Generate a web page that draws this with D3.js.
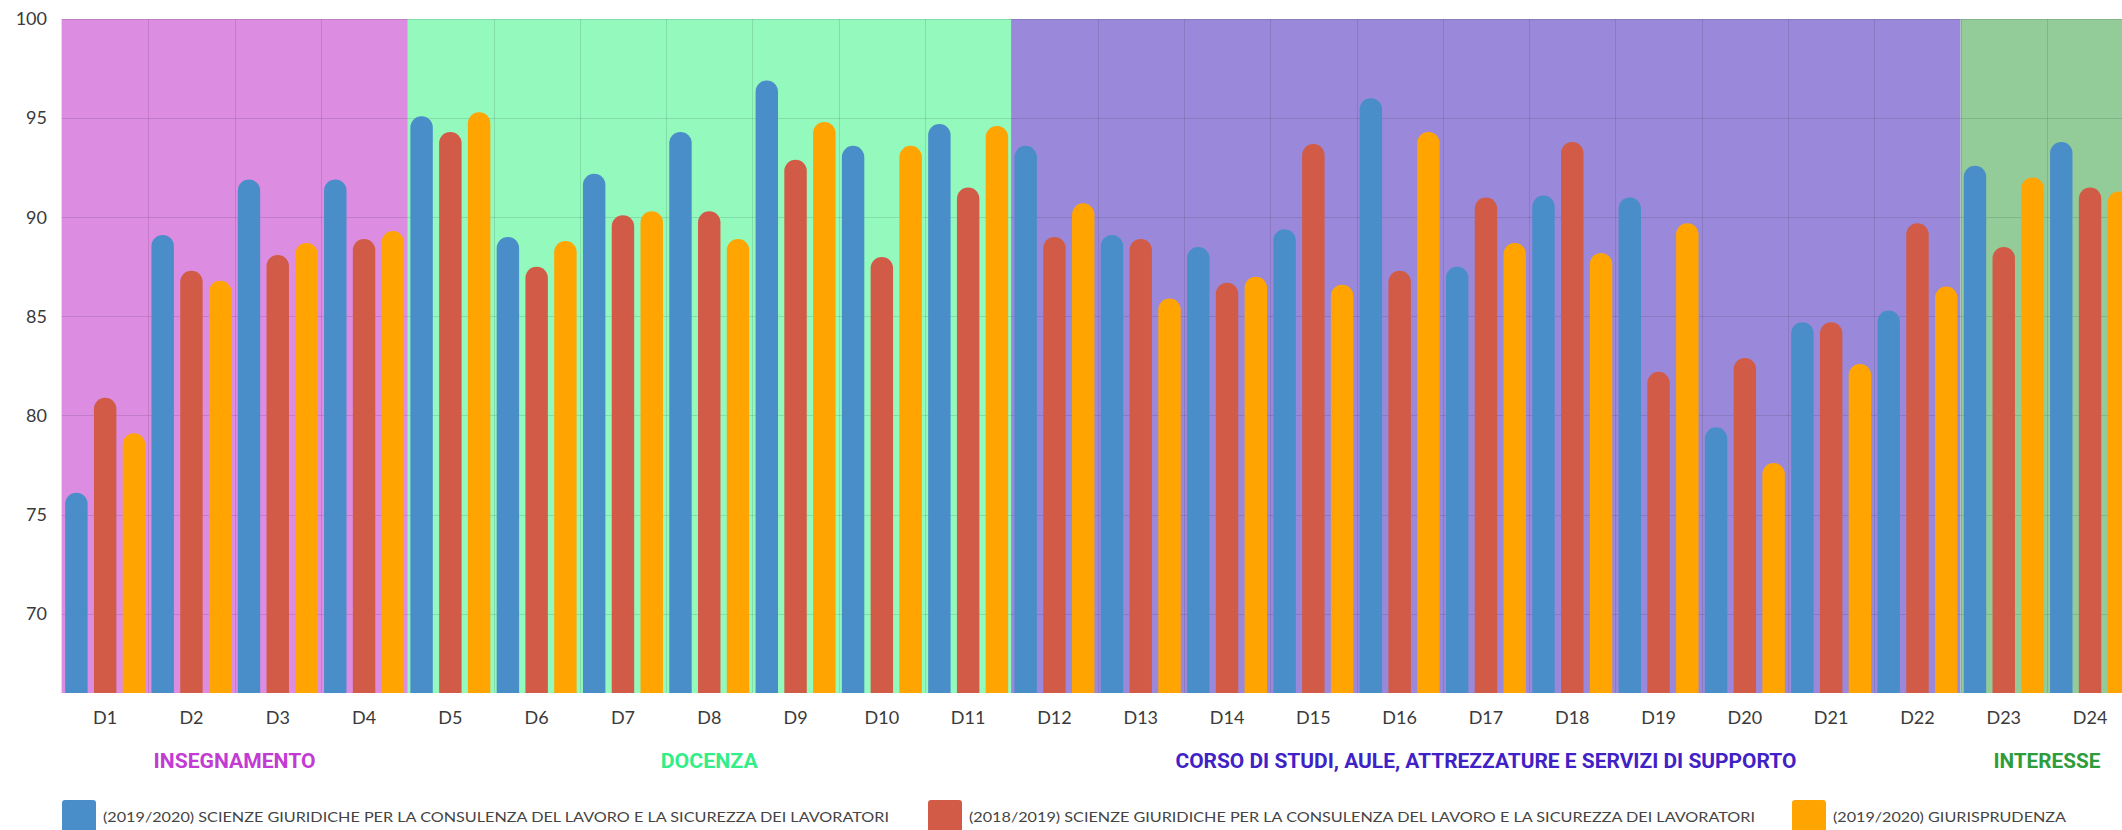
<!DOCTYPE html>
<html>
<head>
<meta charset="utf-8">
<script src="https://cdn.jsdelivr.net/npm/d3@7"></script>
<style>
  body { margin: 0; background: #fff; }
  svg { display: block; overflow: hidden; }
  .tick text { font-family: Lato, "Open Sans", sans-serif; fill: #3a3a3a; }
</style>
</head>
<body>
<div id="chart"></div>
<script>
// Data
var categories = ['D1', 'D2', 'D3', 'D4', 'D5', 'D6', 'D7', 'D8', 'D9', 'D10', 'D11', 'D12',
    'D13', 'D14', 'D15', 'D16', 'D17', 'D18', 'D19', 'D20', 'D21', 'D22', 'D23', 'D24'];

var seriesNames = [
    '(2019/2020) SCIENZE GIURIDICHE PER LA CONSULENZA DEL LAVORO E LA SICUREZZA DEI LAVORATORI',
    '(2018/2019) SCIENZE GIURIDICHE PER LA CONSULENZA DEL LAVORO E LA SICUREZZA DEI LAVORATORI',
    '(2019/2020) GIURISPRUDENZA'
];

var sgcl2020 = [76.1, 89.1, 91.9, 91.9, 95.1, 89.0, 92.2, 94.3, 96.9, 93.6, 94.7, 93.6,
    89.1, 88.5, 89.4, 96.0, 87.5, 91.1, 91.0, 79.4, 84.7, 85.3, 92.6, 93.8];
var sgcl2019 = [80.9, 87.3, 88.1, 88.9, 94.3, 87.5, 90.1, 90.3, 92.9, 88.0, 91.5, 89.0,
    88.9, 86.7, 93.7, 87.3, 91.0, 93.8, 82.2, 82.9, 84.7, 89.7, 88.5, 91.5];
var giur2020 = [79.1, 86.8, 88.7, 89.3, 95.3, 88.8, 90.3, 88.9, 94.8, 93.6, 94.6, 90.7,
    85.9, 87.0, 86.6, 94.3, 88.7, 88.2, 89.7, 77.6, 82.6, 86.5, 92.0, 91.3];

var yTicks = [70, 75, 80, 85, 90, 95, 100];

var groupLabels = ['INSEGNAMENTO', 'DOCENZA',
    'CORSO DI STUDI, AULE, ATTREZZATURE E SERVIZI DI SUPPORTO', 'INTERESSE'];
var groupFirst = ['D1', 'D5', 'D12', 'D23'];
var groupLast = ['D4', 'D11', 'D22', 'D24'];

// styles
var seriesColors = ['#4a8ec9', '#d25b47', '#ffa400'];
var bandColors = ['#dc8de1', '#93f9bd', '#9a89da', '#93cc99'];
var groupTextColors = ['#c23bd3', '#33ee88', '#3f22c6', '#2e9c3a'];
var groupTextWidths = [162, 97, 621, 107];

var svgWidth = 2122;
var svgHeight = 830;

var plot = { left: 62, top: 19, bottom: 693, step: 86.3 };

var svg = d3.select('#chart')
    .append('svg')
    .attr('width', svgWidth)
    .attr('height', svgHeight);

var xScale = d3.scaleBand()
    .domain(categories)
    .range([plot.left, plot.left + plot.step * categories.length]);

var xInner = d3.scaleBand()
    .domain(d3.range(seriesNames.length))
    .range([0, xScale.bandwidth()])
    .paddingInner(0.22)
    .paddingOuter(0.11);

var yScale = d3.scaleLinear()
    .domain([66, 100])
    .range([plot.bottom, plot.top]);

var plotRight = xScale.range()[1];

// Background bands for each section
svg.append('g')
    .selectAll('rect')
    .data(groupLabels)
    .enter()
    .append('rect')
    .attr('x', (d, i) => xScale(groupFirst[i]))
    .attr('y', plot.top)
    .attr('width', (d, i) => xScale(groupLast[i]) + xScale.bandwidth() - xScale(groupFirst[i]))
    .attr('height', plot.bottom - plot.top)
    .attr('fill', (d, i) => bandColors[i]);

// Grid
var grid = svg.append('g')
    .attr('stroke', 'rgba(0,0,0,0.11)')
    .attr('stroke-width', 1);

grid.selectAll('.hline')
    .data(yTicks)
    .enter()
    .append('line')
    .attr('x1', plot.left)
    .attr('x2', plotRight)
    .attr('y1', d => Math.round(yScale(d)) + 0.5)
    .attr('y2', d => Math.round(yScale(d)) + 0.5);

grid.selectAll('.vline')
    .data(categories.slice(1))
    .enter()
    .append('line')
    .attr('x1', d => Math.round(xScale(d)) + 0.5)
    .attr('x2', d => Math.round(xScale(d)) + 0.5)
    .attr('y1', plot.top)
    .attr('y2', plot.bottom);

svg.append('line')
    .attr('x1', plot.left - 0.5)
    .attr('x2', plot.left - 0.5)
    .attr('y1', plot.top)
    .attr('y2', plot.bottom)
    .attr('stroke', '#ddd');

// Bars with round tops
function barPath(x, w, top, bottom) {
    var r = w / 2;
    return 'M' + x + ',' + bottom +
        'L' + x + ',' + (top + r) +
        'A' + r + ',' + r + ' 0 0 1 ' + (x + w) + ',' + (top + r) +
        'L' + (x + w) + ',' + bottom + 'Z';
}

var allSeries = [sgcl2020, sgcl2019, giur2020];

allSeries.forEach(function(values, s) {
    svg.append('g')
        .selectAll('path')
        .data(values)
        .enter()
        .append('path')
        .attr('d', (d, i) => barPath(xScale(categories[i]) + xInner(s), xInner.bandwidth(), yScale(d), plot.bottom))
        .attr('fill', seriesColors[s]);
});

// Axes
var leftAxis = d3.axisLeft(yScale)
    .tickValues(yTicks)
    .tickSize(0)
    .tickPadding(15);

svg.append('g')
    .attr('transform', `translate(${plot.left}, 0)`)
    .call(leftAxis)
    .call(g => g.select('.domain').remove())
    .selectAll('text')
    .style('font-size', '18px');

var bottomAxis = d3.axisBottom(xScale)
    .tickSize(0)
    .tickPadding(18);

svg.append('g')
    .attr('transform', `translate(0, ${plot.bottom})`)
    .call(bottomAxis)
    .call(g => g.select('.domain').remove())
    .selectAll('text')
    .style('font-size', '18px');

// Section labels
svg.append('g')
    .selectAll('text')
    .data(groupLabels)
    .enter()
    .append('text')
    .attr('x', (d, i) => (xScale(groupFirst[i]) + xScale(groupLast[i]) + xScale.bandwidth()) / 2)
    .attr('y', 768)
    .attr('text-anchor', 'middle')
    .attr('textLength', (d, i) => groupTextWidths[i])
    .attr('lengthAdjust', 'spacingAndGlyphs')
    .style('font-family', 'Roboto, Lato, sans-serif')
    .style('font-weight', 'bold')
    .style('font-size', '21px')
    .attr('fill', (d, i) => groupTextColors[i])
    .text(d => d);

// Legend
var legendX = [62, 928, 1792];
var legendTextWidths = [786, 786, 233];

var legend = svg.append('g')
    .selectAll('g')
    .data(seriesNames)
    .enter()
    .append('g')
    .attr('transform', (d, i) => `translate(${legendX[i]}, 800)`);

legend.append('rect')
    .attr('width', 34)
    .attr('height', 40)
    .attr('rx', 3)
    .attr('fill', (d, i) => seriesColors[i]);

legend.append('text')
    .attr('x', 41)
    .attr('y', 22)
    .attr('textLength', (d, i) => legendTextWidths[i])
    .attr('lengthAdjust', 'spacingAndGlyphs')
    .style('font-family', 'Lato, sans-serif')
    .style('font-size', '14px')
    .attr('fill', '#444')
    .text(d => d);
</script>
</body>
</html>
